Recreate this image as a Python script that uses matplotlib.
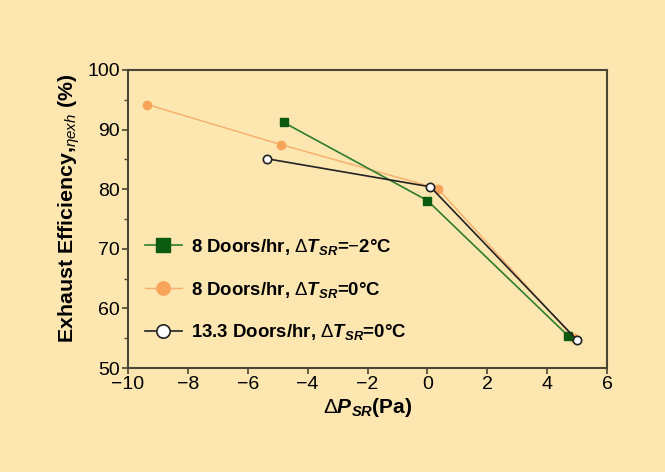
#!/usr/bin/env python
import numpy as np
import matplotlib
matplotlib.use('Agg')
from matplotlib import pyplot as plt
from matplotlib.ticker import MultipleLocator

# data
dp_green = [-4.8, 0.0, 4.7]
eff_green = [91.2, 78.1, 55.4]
dp_orange = [-9.35, -4.9, 0.35, 4.9]
eff_orange = [94.2, 87.5, 80.1, 55.0]
dp_black = [-5.35, 0.1, 5.0]
eff_black = [85.1, 80.4, 54.7]

labels = [r'8 Doors/hr, $\Delta\mathbfit{T}_{\mathbfit{SR}}$=$-$2°C',
          r'8 Doors/hr, $\Delta\mathbfit{T}_{\mathbfit{SR}}$=0°C',
          r'13.3 Doors/hr, $\Delta\mathbfit{T}_{\mathbfit{SR}}$=0°C']

bg = '#fde6b0'

plt.rcParams.update({
    'font.family': ['Liberation Sans', 'DejaVu Sans'],
    'mathtext.fontset': 'custom',
    'mathtext.rm': 'Liberation Sans',
    'mathtext.it': 'Liberation Sans:italic',
    'mathtext.bf': 'Liberation Sans:bold',
    'mathtext.bfit': 'Liberation Sans:bold:italic',
})

fig = plt.figure(figsize=(6.65, 4.72), dpi=100, facecolor=bg)
ax = fig.add_axes([0.1925, 0.2203, 0.7203, 0.6314], facecolor=bg)

ax.plot(dp_green, eff_green, '-s', color='#2e7d2e', mfc='#0b5a10', mec='#0b5a10',
        lw=1.2, ms=6, label=labels[0], zorder=3)
ax.plot(dp_orange, eff_orange, '-o', color='#f6ad6a', mfc='#f8a35a', mec='#f8a35a',
        lw=1.0, ms=6, label=labels[1], zorder=2)
ax.plot(dp_black, eff_black, '-o', color='#222222', mfc='white', mec='#222222',
        lw=1.2, ms=6, mew=1.2, label=labels[2], zorder=4)

ax.set_xlim(-10, 6)
ax.set_ylim(50, 100)
ax.yaxis.set_major_locator(MultipleLocator(10))
ax.yaxis.set_minor_locator(MultipleLocator(5))
ax.set_xticks(np.arange(-10, 7, 2))
ax.set_xticklabels([f'{v}'.replace('-', '\u2212') for v in range(-10, 7, 2)])

for s in ax.spines.values():
    s.set_color('#4a4535')
    s.set_linewidth(1.5)
ax.tick_params(axis='both', which='both', direction='out', color='#4a4535',
               labelsize=14, pad=2)
ax.tick_params(which='major', length=4, width=1.2)
ax.tick_params(which='minor', length=3, width=1.0)

ax.set_xlabel(r'$\Delta\mathbfit{P}_{\mathbfit{SR}}$(Pa)', fontsize=15,
              fontweight='bold', labelpad=2)
ax.set_ylabel(r'Exhaust Efficiency,$_{\eta\mathit{exh}}$ (%)', fontsize=15.4,
              fontweight='bold')
ax.yaxis.set_label_coords(-0.097, 0.535)

leg = ax.legend(loc='upper left', bbox_to_anchor=(0.035, 0.44), frameon=False,
                borderpad=0, borderaxespad=0, handlelength=2.0, handletextpad=0.5,
                labelspacing=1.22, markerscale=1.6,
                prop={'weight': 'bold', 'size': 13.4})

fig.savefig('out.png', dpi=100, facecolor=bg)
